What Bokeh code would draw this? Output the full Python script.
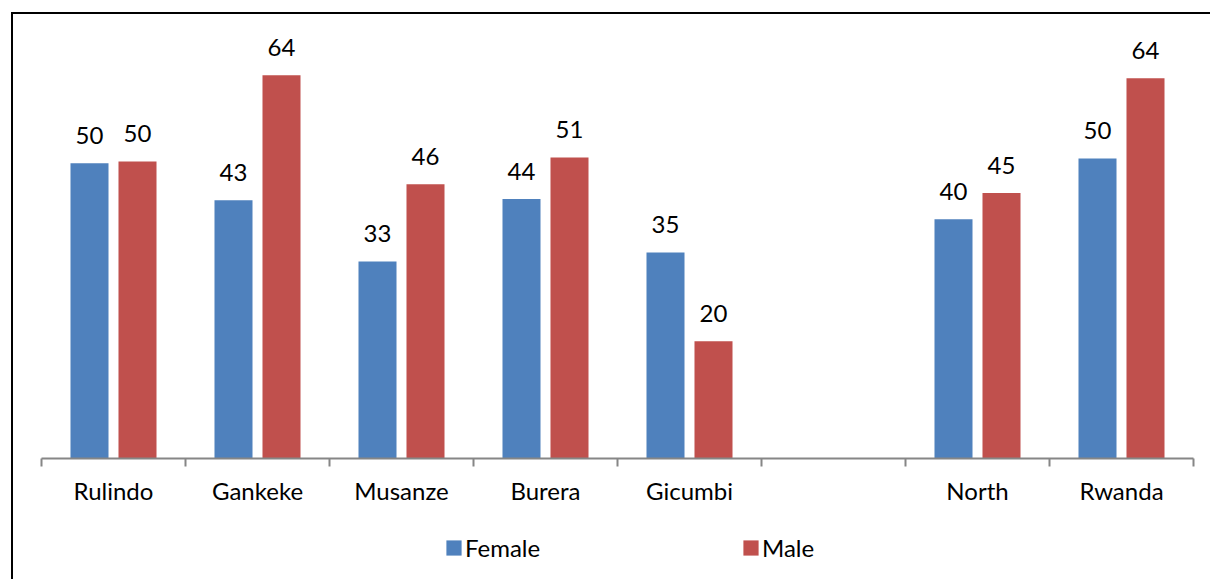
from bokeh.plotting import figure
from bokeh.layouts import column
from bokeh.models import (Range1d, ColumnDataSource, FixedTicker, Legend,
                          LegendItem, LinearAxis)
from bokeh.core.properties import value
from bokeh.embed import file_html
from bokeh.resources import INLINE

# ---- data ----
categories = ["Rulindo", "Gankeke", "Musanze", "Burera", "Gicumbi", "", "North", "Rwanda"]
female = [49.6, 43.4, 33.1, 43.6, 34.6, None, 40.2, 50.4]
male = [49.9, 64.4, 46.1, 50.6, 19.7, None, 44.6, 63.9]
series_names = ["Female", "Male"]
series_colors = ["#4F81BD", "#C0504D"]

FONT = "Lato"
FS = "24px"
W = 1197


def make_source(vals, shift):
    xs, tops, labels = [], [], []
    for i, v in enumerate(vals):
        if v is None:
            continue
        xs.append(i + 0.5 + shift)
        tops.append(v)
        labels.append(str(int(round(v))))
    return ColumnDataSource(dict(x=xs, top=tops, label=labels))


# ---- main chart ----
p = figure(width=W, height=504,
           x_range=Range1d(0, len(categories)), y_range=Range1d(0, 73.6),
           output_backend="svg", toolbar_location=None,
           min_border_left=28, min_border_right=17,
           min_border_top=6, min_border_bottom=60)
p.xaxis.visible = False
p.yaxis.visible = False
p.outline_line_color = None
p.xgrid.visible = False
p.ygrid.visible = False

bar_w = 0.264
shift = 1 / 6
sources = []
for vals, sgn, col in zip([female, male], [-1, 1], series_colors):
    src = make_source(vals, sgn * shift)
    sources.append(src)
    p.vbar(x="x", top="top", width=bar_w, bottom=0, source=src,
           fill_color=col, line_color=None)
    p.text(x="x", y="top", text="label", source=src,
           text_align="center", text_baseline="alphabetic", y_offset=-28,
           text_font=value(FONT), text_font_size=value(FS), text_color="black")

ax = LinearAxis(
    ticker=FixedTicker(ticks=[i + 0.5 for i in range(len(categories))],
                       minor_ticks=list(range(len(categories) + 1))),
    major_label_overrides={i + 0.5: c for i, c in enumerate(categories)},
)
ax.axis_line_color = "#868686"
ax.axis_line_width = 2
ax.major_tick_out = 0
ax.major_tick_in = 0
ax.minor_tick_out = 8
ax.minor_tick_in = 0
ax.minor_tick_line_color = "#868686"
ax.minor_tick_line_width = 2
ax.major_label_standoff = 9
ax.major_label_text_font = FONT
ax.major_label_text_font_size = FS
ax.major_label_text_color = "black"
p.add_layout(ax, "below")

# ---- legend strip (same series as hidden renderers; only the legend shows) ----
q = figure(width=W, height=61, x_range=Range1d(0, 1), y_range=Range1d(0, 1),
           output_backend="svg", toolbar_location=None,
           min_border_left=0, min_border_right=0,
           min_border_top=0, min_border_bottom=0)
q.xaxis.visible = False
q.yaxis.visible = False
q.outline_line_color = None
q.xgrid.visible = False
q.ygrid.visible = False
leg_renderers = []
for s, c in zip(sources, series_colors):
    r = q.vbar(x="x", top="top", width=bar_w, source=s,
               fill_color=c, line_color=None)
    r.visible = False
    leg_renderers.append(r)

legend = Legend(
    items=[LegendItem(label=n, renderers=[r]) for n, r in zip(series_names, leg_renderers)],
    orientation="horizontal", location=(403, 17), click_policy="none",
    padding=0, margin=0, spacing=0,
    glyph_width=19, glyph_height=19, label_standoff=2, label_width=276,
    label_text_font=FONT, label_text_font_size=FS, label_text_color="black",
    border_line_color=None, background_fill_alpha=0, inactive_fill_alpha=0,
)
q.add_layout(legend, "center")

layout = column(p, q, spacing=0,
                styles={"border-top": "2px solid black", "border-left": "2px solid black",
                        "margin-left": "11px", "margin-top": "12px"})

open("out.html", "w").write(file_html(layout, INLINE))
